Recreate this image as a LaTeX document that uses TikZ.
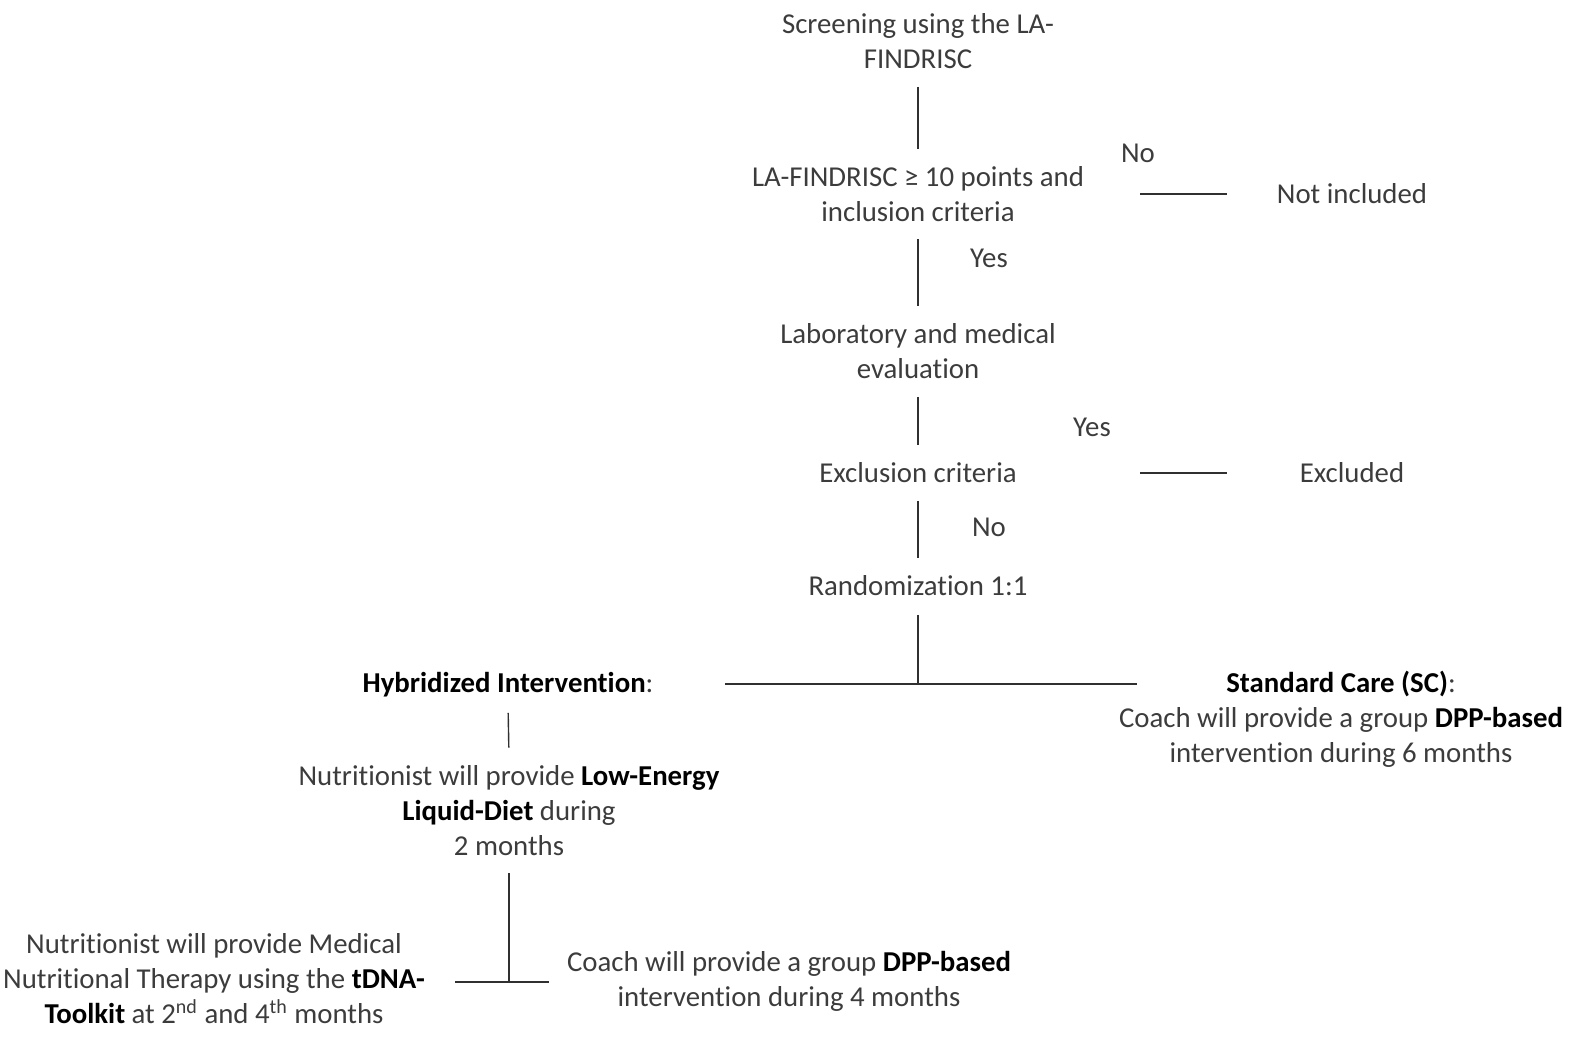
\documentclass[tikz,border=0pt]{standalone}
\usepackage{fontspec}
\setmainfont[Ligatures=NoCommon]{Carlito}
\definecolor{txtgray}{HTML}{3C3C3C}
\definecolor{linegray}{HTML}{303030}
\newcommand\emb[1]{{\color{black}\bfseries #1}}
\begin{document}
\begin{tikzpicture}[x=0.5pt,y=-0.5pt,
  txt/.style={align=center,inner sep=0pt,text=txtgray,font=\fontsize{14.4}{17.5}\selectfont},
  one/.style={txt,minimum height=17.5pt},
  two/.style={txt,minimum height=35pt},
  three/.style={txt,minimum height=52.5pt},
  conn/.style={draw=linegray,line width=0.7pt,shorten <=5pt,shorten >=5pt},
  thick conn/.style={draw=linegray,line width=1.1pt}]
\useasboundingbox (0,0) rectangle (1591,1047);

% main column
\node[two]   (scr)  at (918,41.5)  {Screening using the LA-\\FINDRISC};
\node[two]   (la)   at (918,194)   {LA-FINDRISC ≥ 10 points and\\inclusion criteria};
\node[two]   (lab)  at (918,351.5) {Laboratory and medical\\evaluation};
\node[one]   (exc)  at (918,473)   {Exclusion criteria};
\node[one]   (rand) at (918,586)   {Randomization 1:1};

% side outcomes
\node[one]   (ni)   at (1352,194)  {Not included};
\node[one]   (excl) at (1352,473)  {Excluded};

% labels
\node[one]   (no1)  at (1138,153)  {No};
\node[one]   (yes1) at (989,258)   {Yes};
\node[one]   (yes2) at (1092,427)  {Yes};
\node[one]   (no2)  at (989,527)   {No};

% arms
\node[one]   (hyb)  at (508,685)   {\emb{Hybridized Intervention}:};
\node[three] (sc)   at (1341,719)  {\emb{Standard Care (SC)}:\\Coach will provide a group \emb{DPP-based}\\intervention during 6 months};
\node[three] (nut)  at (509,810.5) {Nutritionist will provide \emb{Low-Energy}\\\emb{Liquid-Diet} during\\2 months};
\node[three] (med)  at (214,979)   {Nutritionist will provide Medical\\Nutritional Therapy using the \emb{tDNA-}\\\emb{Toolkit} at 2\textsuperscript{nd} and 4\textsuperscript{th} months};
\node[two]   (coach) at (789,981)  {Coach will provide a group \emb{DPP-based}\\intervention during 4 months};

\coordinate (f1) at (918,684);
\coordinate (f2) at (509,982);

% connectors
\draw[conn] (scr.south) -- (la.north);
\draw[conn] (la.south) -- (lab.north);
\draw[conn] (lab.south) -- (exc.north);
\draw[conn] (exc.south) -- (rand.north);
\draw[conn,shorten <=28pt,shorten >=25pt] (la.east) -- (ni.west);
\draw[conn,shorten <=61.5pt,shorten >=36pt] (exc.east) -- (excl.west);

\draw[thick conn,shorten <=5.5pt] (rand.south) -- (f1);
\draw[thick conn,shorten <=35.5pt,shorten >=-9pt] (hyb.east |- f1) -- (sc.west |- f1);

\draw[conn] (hyb.south) -- (nut.north);
\draw[conn,shorten >=0pt] (nut.south) -- (f2);
\draw[conn,shorten <=15pt,shorten >=9pt] (med.east |- f2) -- (coach.west |- f2);
\end{tikzpicture}
\end{document}
